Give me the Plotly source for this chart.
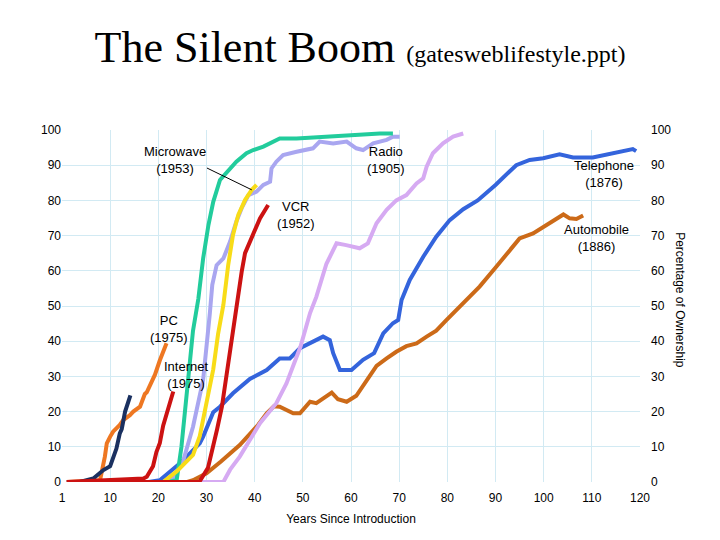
import plotly.graph_objects as go

# ---- data (years since introduction, % ownership) ----
navy_x = [1, 3.7, 6.5, 8.6, 10.0, 10.6, 11.3, 12.0, 12.4, 13.1, 13.8, 14.2]
navy_y = [0, 0, 1, 3.4, 4.5, 7.2, 9.5, 13.8, 15, 20, 23.3, 24.6]

pc_x = [1, 7.9, 8.9, 9.3, 10.0, 10.6, 12.0, 12.7, 14.1, 14.8, 16.2, 17.2, 17.6, 18.9, 19.3, 20.3, 21.7]
pc_y = [0, 0.5, 7.2, 11, 12.9, 14.3, 16.2, 17.6, 19, 20, 21.4, 25, 25.5, 29.5, 30.5, 34.5, 39.4]

internet_x = [1, 10, 16.9, 17.6, 18.3, 18.9, 19.6, 20.3, 21.0, 21.4, 22.0, 23.1]
internet_y = [0, 0.5, 1, 1.5, 3.4, 4.5, 8.5, 11, 16, 17.8, 21, 25.7]

vcr_x = [1, 28.5, 30.3, 31.2, 32.2, 33.2, 34.5, 35.5, 36.2, 36.9, 37.3, 38, 39.4, 41.1, 42.8]
vcr_y = [0, 0, 4, 9, 15, 21.4, 34, 43, 50.3, 56.5, 59.7, 65, 69.2, 74.9, 78.7]

micro_x = [12, 21, 23.8, 27.2, 28.6, 30, 31.4, 32.4, 33.5, 34.5, 35.5, 36.6, 38, 39.4, 40.4]
micro_y = [0, 0, 3, 7.7, 13, 22, 32, 42, 50.3, 61.6, 70.2, 75.9, 80.1, 83, 84.4]

tv_x = [22, 23.8, 24.8, 25.9, 27.2, 28.3, 29.3, 30.4, 31.4, 32.8, 34.5, 36.2, 38.3, 39.7, 41.8, 43.8, 45.2, 48.7, 51.5, 59.1, 66, 68.7]
tv_y = [0, 0.5, 10, 26, 43, 52, 63.5, 73, 79.6, 85.8, 88.2, 91, 93.4, 94.3, 95.3, 96.7, 97.6, 97.6, 97.8, 98.6, 99, 99]

radio_x = [19, 21, 23.1, 25.2, 27.2, 29.3, 30.7, 31.2, 32.1, 33.5, 34.9, 36.2, 37.3, 38.7, 40.4, 41.8,
           43.2, 43.5, 44.5, 45.9, 48.7, 50.5, 52.1, 53.5, 56.3, 59.1, 61.1, 62.5, 64.6, 67.4, 68.7, 70.1]
radio_y = [0, 0, 1, 6.2, 15.7, 29, 48, 56, 61.6, 63.5, 68.3, 74, 77.8, 81.5, 82.5, 84.4,
           85.3, 89.1, 91, 92.9, 93.8, 94.3, 94.8, 96.7, 96.2, 96.7, 94.8, 94.3, 96.2, 97.2, 98.1, 98.1]

elec_x = [28, 33.5, 34.9, 36.9, 41.1, 44.5, 46.6, 49.5, 51.5, 52.8, 54.9, 57, 59, 61.8, 63.5, 65.3,
          67.4, 69.4, 71.5, 73.6, 75, 75.7, 77, 79.1, 81.2, 83.3]
elec_y = [0, 0, 3.5, 7.2, 16.7, 22.4, 28, 38.4, 48, 52.6, 62, 67.8, 67.3, 66.4, 67.8, 73.5,
          77.3, 80, 81.5, 84.8, 86.3, 89.6, 93.4, 96.2, 98.1, 99]

phone_x = [18, 20.3, 24.5, 27.2, 28.6, 29.3, 31.4, 32.8, 35.5, 39, 42.5, 45.2, 47.3, 49.4, 52.1, 54.2,
           55.6, 56.3, 57.7, 60.1, 62.5, 64.8, 66.7, 68.7, 69.8, 70.5, 72.2, 75, 77.7, 80.5, 83.3,
           86.3, 90, 94.3, 97.1, 99.9, 103.3, 106.1, 110.2, 114.4, 118.5, 119.2]
phone_y = [0, 0.5, 5.3, 9, 11, 12.9, 19.8, 21.4, 25.2, 29.3, 31.8, 35.1, 35.1, 38, 39.9, 41.3,
           40.3, 36.6, 31.8, 31.8, 34.7, 36.6, 42.2, 45.1, 46, 51.7, 57.4, 64, 69.7, 74.4, 77.5,
           80, 84.4, 90, 91.5, 92, 93.1, 92.2, 92.2, 93.4, 94.6, 94]

auto_x = [26, 27.2, 30, 33, 36.9, 40.7, 42.5, 44, 45.2, 46.6, 48, 49.4, 51.5, 52.8, 56, 57.3, 59.1,
          61.1, 63.2, 65.3, 67.4, 69.4, 71.5, 73.6, 75.7, 77.7, 79.8, 83.3, 86.7, 90.2, 93, 95,
          97.8, 100.6, 104.1, 105.4, 106.8, 108.2]
auto_y = [0, 0.5, 2.5, 5.8, 10.5, 16.2, 19.5, 21.5, 21.4, 20.5, 19.5, 19.5, 22.8, 22.4, 25.4, 23.5, 22.8,
          24.5, 28.8, 33, 35.1, 37, 38.6, 39.4, 41.3, 43, 46, 50.8, 55.5, 61.2, 65.9, 69.2,
          70.6, 73, 76, 74.9, 74.7, 75.7]

x_ticks = [0, 10, 20, 30, 40, 50, 60, 70, 80, 90, 100, 110, 120]
x_tick_text = ["1", "10", "20", "30", "40", "50", "60", "70", "80", "90", "100", "110", "120"]
y_ticks = [0, 10, 20, 30, 40, 50, 60, 70, 80, 90, 100]

labels = [
    ("Television<br>(1926)", 66.2, 107.4),
    ("Electricity<br>(1873)", 82.8, 107.4),
    ("Microwave<br>(1953)", 23.5, 91.5),
    ("VCR<br>(1952)", 48.6, 75.9),
    ("Radio<br>(1905)", 67.3, 91.5),
    ("Telephone<br>(1876)", 112.5, 87.5),
    ("Automobile<br>(1886)", 110.9, 69.3),
    ("PC<br>(1975)", 22.2, 43.5),
    ("Internet<br>(1975)", 25.7, 30.3),
]

series = [
    (auto_x, auto_y, "#cc6a18"),
    (phone_x, phone_y, "#3464dc"),
    (elec_x, elec_y, "#d6aaf2"),
    (radio_x, radio_y, "#a9a6f0"),
    (tv_x, tv_y, "#22cc9c"),
    (micro_x, micro_y, "#f8dc18"),
    (pc_x, pc_y, "#ee7722"),
    (navy_x, navy_y, "#1a3060"),
    (internet_x, internet_y, "#cc1212"),
    (vcr_x, vcr_y, "#cc1212"),
]

fig = go.Figure()
for xs, ys, col in series:
    fig.add_trace(go.Scatter(x=xs, y=ys, mode="lines", line=dict(color=col, width=4),
                             showlegend=False, hoverinfo="skip"))
# dummy trace for the right-hand axis
fig.add_trace(go.Scatter(x=[None], y=[None], yaxis="y2", showlegend=False, hoverinfo="skip"))

font_sans = "Liberation Sans, Arial, sans-serif"
grid = "#d2eaf3"

# page body has an 8px default margin, so the figure is 8px smaller and offset
W, H = 712, 532
fig.update_layout(
    width=W, height=H,
    margin=dict(l=54, r=80, t=122, b=58),
    paper_bgcolor="white", plot_bgcolor="white",
    font=dict(family=font_sans, size=12, color="black"),
    title=dict(
        text="The Silent Boom <span style='font-size:24px'>(gatesweblifestyle.ppt)</span>",
        font=dict(family="Liberation Serif, Times New Roman, serif", size=44, color="black"),
        x=352 / W, xanchor="center", xref="container", y=1 - 39 / H, yanchor="middle", yref="container",
    ),
    xaxis=dict(range=[0, 120], tickvals=x_ticks, ticktext=x_tick_text, showgrid=True,
               gridcolor=grid, gridwidth=1, zeroline=False, showline=False, ticks="",
               tickfont=dict(size=12), ticklabelstandoff=7,
               title=dict(text="Years Since Introduction", font=dict(size=12), standoff=10)),
    yaxis=dict(range=[0, 100], tickvals=y_ticks, showgrid=True, gridcolor=grid, gridwidth=1,
               zeroline=False, showline=False, ticks="", tickfont=dict(size=12)),
    yaxis2=dict(range=[0, 100], tickvals=y_ticks, overlaying="y", side="right", showgrid=False,
                zeroline=False, showline=False, ticks="", tickfont=dict(size=12),
                ticklabelstandoff=10),
)

for txt, ax_, ay_ in labels:
    fig.add_annotation(text=txt, x=ax_, y=ay_, xref="x", yref="y", showarrow=False,
                       font=dict(size=13, family=font_sans), align="center",
                       xanchor="center", yanchor="middle")

# pointer from Microwave label to the microwave curve
fig.add_shape(type="line", x0=30.1, y0=89.2, x1=39.4, y1=83.0, xref="x", yref="y",
              line=dict(color="black", width=1))

fig.add_annotation(text="Percentage of Ownership", textangle=90, x=1.069, y=0.517,
                   xref="paper", yref="paper", showarrow=False, font=dict(size=12),
                   xanchor="center", yanchor="middle")

fig.write_html("out.html")
